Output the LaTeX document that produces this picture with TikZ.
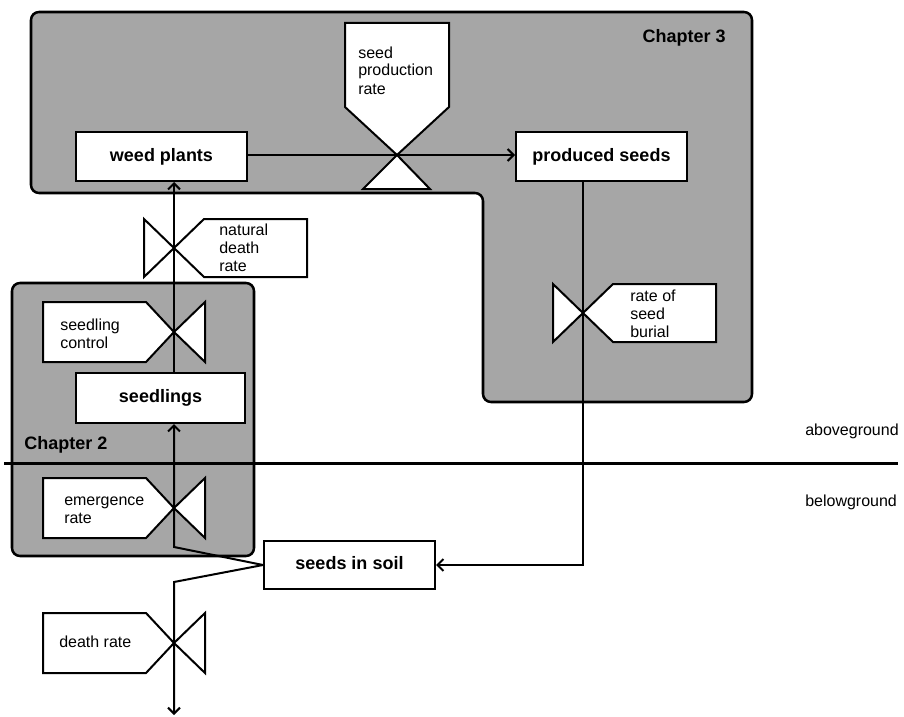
\documentclass[tikz,border=0pt]{standalone}
\usepackage{fontspec}
\setmainfont{Liberation Sans}
\usetikzlibrary{arrows.meta}
\definecolor{chapgray}{RGB}{166,166,166}
\tikzset{
  chapter/.style={draw=black, fill=chapgray, line width=1.9pt, rounded corners=6pt},
  stock/.style={draw=black, fill=white, line width=1.5pt, inner sep=0pt,
    font=\fontsize{13.5}{16}\selectfont\bfseries, text height=10pt, text depth=3pt},
  flow/.style={draw=black, line width=1.5pt, -{Straight Barb[length=4.5pt,width=9pt,line width=1.5pt]}},
  valvepart/.style={draw=black, fill=white, line width=1.5pt, line join=miter},
  % multi-line labels are placed by the baseline of their last line
  vlabel/.style={anchor=base west, align=left, inner sep=0pt,
    font=\fontsize{12}{13.5}\selectfont},
  chaptitle/.style={inner sep=0pt, font=\fontsize{13.5}{16}\selectfont\bfseries},
  groundlabel/.style={anchor=base west, inner sep=0pt, font=\fontsize{12}{13.5}\selectfont},
  % valve with its label box to the right and the triangle to the left
  valveR/.pic={
    \draw[valvepart] (0,0) -- (-30,-29) -- (-30,29) -- cycle;
    \draw[valvepart] (0,0) -- (30,-29) -- (133,-29) -- (133,29) -- (30,29) -- cycle;
  },
  % valve with its label box to the left and the triangle to the right
  valveL/.pic={
    \draw[valvepart] (0,0) -- (31,-30) -- (31,30) -- cycle;
    \draw[valvepart] (0,0) -- (-28,-30) -- (-131,-30) -- (-131,30) -- (-28,30) -- cycle;
  },
}
\begin{document}
\begin{tikzpicture}[x=0.75pt, y=-0.75pt]
\useasboundingbox (0,0) rectangle (904,717);

% chapter areas
\draw[chapter] (31,12) -- (752,12) -- (752,402) -- (483,402) -- (483,193) -- (31,193) -- cycle;
\draw[chapter] (12,283) rectangle (254,556);
\node[chaptitle, anchor=base east] (ch3) at (726,43) {Chapter 3};
\node[chaptitle, anchor=base west] (ch2) at (24,449) {Chapter 2};

% soil surface
\draw[line width=2.25pt] (4,463) -- (898,463);
\node[groundlabel] (above) at (805,435) {aboveground};
\node[groundlabel] (below) at (805,506) {belowground};

% stocks
\node[stock, minimum width=171*0.75pt, minimum height=49*0.75pt] (wp) at (161.5,156.5) {weed plants};
\node[stock, minimum width=171*0.75pt, minimum height=49*0.75pt] (ps) at (601.5,156.5) {produced seeds};
\node[stock, minimum width=169*0.75pt, minimum height=50*0.75pt] (sl) at (160.5,398) {seedlings};
\node[stock, minimum width=171*0.75pt, minimum height=48*0.75pt] (sis) at (349.5,565) {seeds in soil};

% valve centres and bends
\coordinate (spr) at (397,155);
\coordinate (nd) at (174,248);
\coordinate (sc) at (174,332);
\coordinate (er) at (174,508);
\coordinate (dr) at (174,643);
\coordinate (sb) at (583,313);
\coordinate (bendup) at (174,547);
\coordinate (benddown) at (174,582);
\coordinate (sink) at (174,715);

% flows
\draw[flow] (wp.east |- spr) -- (ps.west |- spr);
\draw[flow] (sl.north -| nd) -- (wp.south -| nd);
\draw[flow] (ps.south -| sb) -- (sb |- sis.east) -- (sis.east);
\draw[flow] (sis.west) -- (bendup) -- (sl.south -| bendup);
\draw[flow] (sis.west) -- (benddown) -- (sink);

% seed production valve
\draw[valvepart] (spr) -- (345,107) -- (345,23) -- (449,23) -- (449,107) -- cycle;
\draw[valvepart] (spr) -- (363,189) -- (430,189) -- cycle;
\node[vlabel] (sprlab) at (358,94) {seed\\production\\rate};

% other valves
\pic at (nd) {valveR};
\node[vlabel] (ndlab) at (219,271) {natural\\death\\rate};
\pic at (sb) {valveR};
\node[vlabel] (sblab) at (630,337) {rate of\\seed\\burial};
\pic at (sc) {valveL};
\node[vlabel] (sclab) at (60,348) {seedling\\control};
\pic at (er) {valveL};
\node[vlabel] (erlab) at (64,523) {emergence\\rate};
\pic at (dr) {valveL};
\node[vlabel] (drlab) at (59,647) {death rate};
\end{tikzpicture}
\end{document}
